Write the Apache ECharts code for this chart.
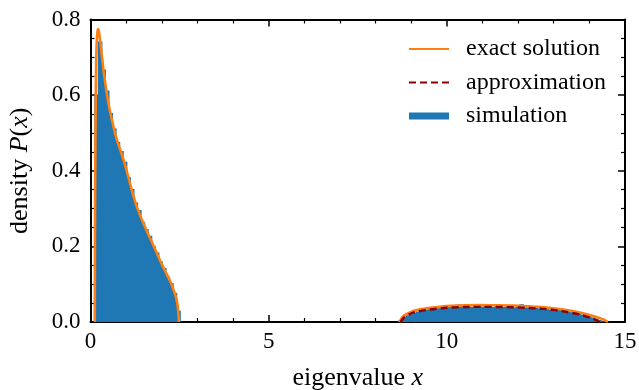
<!DOCTYPE html>
<html>
<head>
<meta charset="utf-8">
<script src="https://cdn.jsdelivr.net/npm/echarts@6/dist/echarts.min.js"></script>
<style>
  html, body { margin: 0; padding: 0; background: #fff; }
  #main { width: 639px; height: 390px; }
</style>
</head>
<body>
<div id="main"></div>
<script>
// exact solution, first bump
const exactX1 = [0.12, 0.13, 0.15, 0.17, 0.2, 0.22, 0.25, 0.3, 0.38, 0.5, 0.6, 0.7, 0.8, 0.9, 1.0, 1.1, 1.2, 1.3, 1.4, 1.5, 1.6, 1.7, 1.8, 1.9, 2.0, 2.1, 2.2, 2.3, 2.4, 2.45, 2.48];
const exactY1 = [0, 0.35, 0.62, 0.73, 0.772, 0.775, 0.76, 0.72, 0.655, 0.58, 0.535, 0.495, 0.465, 0.437, 0.405, 0.37, 0.335, 0.305, 0.28, 0.258, 0.236, 0.216, 0.195, 0.174, 0.153, 0.134, 0.115, 0.093, 0.065, 0.04, 0];
// exact solution, second bump
const exactX2 = [8.67, 8.75, 8.85, 9.06, 9.3, 9.53, 10.0, 10.5, 10.93, 11.4, 11.87, 12.3, 12.8, 13.27, 13.73, 14.0, 14.2, 14.4, 14.52];
const exactY2 = [0, 0.013, 0.02, 0.0293, 0.034, 0.0373, 0.0419, 0.0440, 0.0445, 0.0443, 0.0437, 0.0415, 0.0384, 0.033, 0.025, 0.0185, 0.0133, 0.0065, 0];
// approximation (second bump)
const approxX = [8.7, 8.8, 9.06, 9.53, 10.0, 10.5, 10.93, 11.4, 11.87, 12.3, 12.8, 13.27, 13.73, 13.9, 14.1, 14.3];
const approxY = [0, 0.012, 0.025, 0.033, 0.0375, 0.0395, 0.040, 0.0398, 0.039, 0.037, 0.034, 0.028, 0.020, 0.015, 0.009, 0];

// simulation histogram (bin centres, heights)
const binWidth = 0.1;
const histX = [0.17, 0.27, 0.37, 0.47, 0.57, 0.67, 0.77, 0.87, 0.97, 1.07, 1.17, 1.27, 1.37, 1.47, 1.57, 1.67, 1.77, 1.87, 1.97, 2.07, 2.17, 2.27, 2.37, 2.47,
  8.7, 8.8, 8.9, 9.0, 9.1, 9.2, 9.3, 9.4, 9.5, 9.6, 9.7, 9.8, 9.9, 10.0, 10.1, 10.2, 10.3, 10.4, 10.5, 10.6, 10.7, 10.8, 10.9, 11.0,
  11.1, 11.2, 11.3, 11.4, 11.5, 11.6, 11.7, 11.8, 11.9, 12.0, 12.1, 12.2, 12.3, 12.4, 12.5, 12.6, 12.7, 12.8, 12.9, 13.0, 13.1, 13.2,
  13.3, 13.4, 13.5, 13.6, 13.7, 13.8, 13.9, 14.0, 14.1, 14.2, 14.3, 14.4];
const histY = [0.6, 0.742, 0.668, 0.612, 0.553, 0.512, 0.476, 0.452, 0.424, 0.383, 0.352, 0.316, 0.296, 0.265, 0.246, 0.228, 0.201, 0.184, 0.16, 0.143, 0.12, 0.103, 0.077, 0.03,
  0.004, 0.012, 0.018, 0.02, 0.025, 0.028, 0.03, 0.032, 0.034, 0.035, 0.036, 0.038, 0.037, 0.039, 0.04, 0.039, 0.046, 0.046, 0.037, 0.041, 0.04, 0.042, 0.047, 0.041,
  0.046, 0.041, 0.04, 0.042, 0.041, 0.04, 0.041, 0.04, 0.039, 0.04, 0.047, 0.039, 0.038, 0.037, 0.037, 0.036, 0.035, 0.034, 0.033, 0.032, 0.031, 0.036,
  0.029, 0.027, 0.026, 0.024, 0.022, 0.02, 0.018, 0.015, 0.012, 0.009, 0.005, 0.002];

const xTicks = [0, 5, 10, 15];
const yTicks = [0, 0.2, 0.4, 0.6, 0.8];

const FONT = 'Liberation Serif';

const zip = (xs, ys) => xs.map((x, i) => [x, ys[i]]);
const exactData = zip(exactX1, exactY1).concat([[null, null]], zip(exactX2, exactY2));

const chart = echarts.init(document.getElementById('main'));

const axisCommon = {
  axisLine: { show: true, onZero: false, lineStyle: { color: '#000', width: 2 } },
  axisTick: { show: true, inside: true, length: 7, lineStyle: { color: '#000', width: 1.5 } },
  minorTick: { show: true, length: 4, lineStyle: { color: '#000', width: 1.2 } },
  splitLine: { show: false },
  minorSplitLine: { show: false }
};

const xBase = Object.assign({}, axisCommon, {
  type: 'value', min: xTicks[0], max: xTicks[xTicks.length - 1], interval: 5,
  minorTick: Object.assign({}, axisCommon.minorTick, { splitNumber: 5 })
});
const yBase = Object.assign({}, axisCommon, {
  type: 'value', min: yTicks[0], max: yTicks[yTicks.length - 1], interval: 0.2,
  minorTick: Object.assign({}, axisCommon.minorTick, { splitNumber: 4 })
});

const nameRich = {
  r: { fontFamily: FONT, fontSize: 26, color: '#000' },
  i: { fontFamily: FONT, fontSize: 26, color: '#000', fontStyle: 'italic' }
};

chart.setOption({
  animation: false,
  backgroundColor: '#fff',
  grid: { left: 90.5, right: 14, top: 19.5, bottom: 68, containLabel: false, outerBoundsMode: 'none' },
  legend: {
    orient: 'vertical',
    left: 408,
    top: 37,
    padding: 0,
    itemWidth: 40,
    itemHeight: 7,
    itemGap: 9.5,
    textStyle: { fontFamily: FONT, fontSize: 24, color: '#000', lineHeight: 24, padding: [0, 0, 0, 12] },
    data: [
      { name: 'exact solution', itemStyle: { opacity: 0 } },
      { name: 'approximation', itemStyle: { opacity: 0 } },
      { name: 'simulation', icon: 'rect' }
    ]
  },
  xAxis: [
    Object.assign({}, xBase, {
      position: 'bottom',
      name: '{r|eigenvalue }{i|x}',
      nameLocation: 'middle',
      nameGap: 43,
      nameTextStyle: { rich: nameRich },
      axisLabel: { show: true, margin: 8, fontFamily: FONT, fontSize: 23, color: '#000' }
    }),
    Object.assign({}, xBase, { position: 'top', axisLabel: { show: false } })
  ],
  yAxis: [
    Object.assign({}, yBase, {
      position: 'left',
      name: '{r|density }{i|P}{r|(}{i|x}{r|)}',
      nameLocation: 'middle',
      nameGap: 57,
      nameTextStyle: { rich: nameRich },
      axisLabel: { show: true, margin: 10, fontFamily: FONT, fontSize: 23, color: '#000',
        formatter: v => v.toFixed(1) }
    }),
    Object.assign({}, yBase, { position: 'right', axisLabel: { show: false } })
  ],
  series: [
    {
      name: 'simulation',
      type: 'custom',
      xAxisIndex: 0, yAxisIndex: 0,
      data: zip(histX, histY),
      encode: { x: 0, y: 1 },
      itemStyle: { color: '#1f77b4' },
      renderItem: function (params, api) {
        const x = api.value(0), h = api.value(1);
        const p0 = api.coord([x - binWidth / 2, 0]);
        const p1 = api.coord([x + binWidth / 2, h]);
        // widen by 1px so neighbouring bins overlap and no seams show
        return {
          type: 'rect',
          shape: { x: p0[0] - 0.5, y: p1[1], width: p1[0] - p0[0] + 1, height: p0[1] - p1[1] },
          style: { fill: '#1f77b4' },
          emphasisDisabled: true
        };
      }
    },
    {
      name: 'exact solution',
      type: 'line',
      data: exactData,
      showSymbol: false,
      symbol: 'none',
      smooth: 0.25,
      connectNulls: false,
      lineStyle: { color: '#ff7f0e', width: 2.6 },
      itemStyle: { color: '#ff7f0e' }
    },
    {
      name: 'approximation',
      type: 'line',
      data: zip(approxX, approxY),
      showSymbol: false,
      symbol: 'none',
      smooth: 0.25,
      lineStyle: { color: '#8b0000', width: 2.4, type: [7, 4] },
      itemStyle: { color: '#8b0000' }
    }
  ]
});
</script>
</body>
</html>
